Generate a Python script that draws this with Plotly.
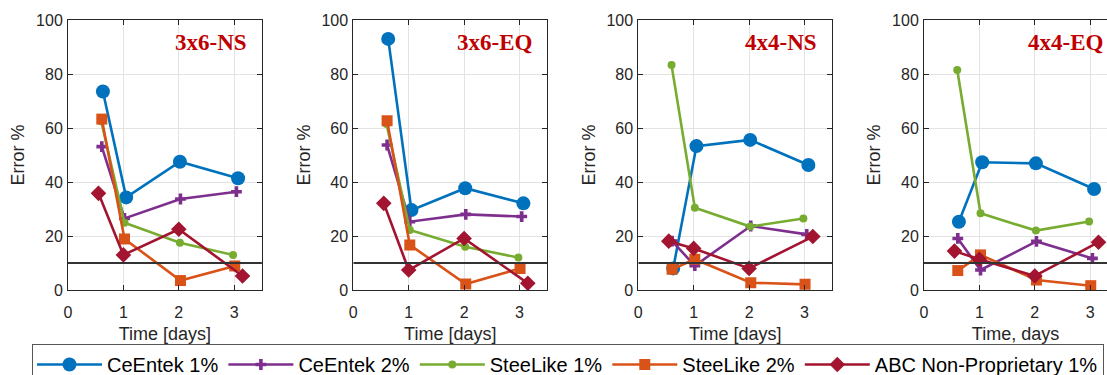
import plotly.graph_objects as go

panels = ["3x6-NS", "3x6-EQ", "4x4-NS", "4x4-EQ"]
x_titles = ["Time [days]", "Time [days]", "Time [days]", "Time, days"]
series = ["CeEntek 1%", "CeEntek 2%", "SteeLike 1%", "SteeLike 2%", "ABC Non-Proprietary 1%"]

# measurement times (days) for each series
x_ce1 = [0.63, 1.05, 2.02, 3.07]
x_ce2 = [0.61, 1.02, 2.03, 3.04]
x_sl1 = [0.60, 1.02, 2.02, 2.98]
x_sl2 = [0.61, 1.02, 2.03, 3.01]
x_abc = [0.55, 1.00, 2.00, 3.15]

# Error % per panel (3x6-NS, 3x6-EQ, 4x4-NS, 4x4-EQ)
ce1 = [[73.5, 34.3, 47.5, 41.4], [93.0, 29.6, 37.7, 32.1], [8.0, 53.3, 55.6, 46.3], [25.3, 47.3, 46.9, 37.4]]
ce2 = [[53.1, 26.5, 33.7, 36.4], [53.7, 25.3, 28.0, 27.2], [18.1, 9.0, 23.7, 20.6], [19.1, 7.4, 18.0, 11.7]]
sl1 = [[62.5, 24.9, 17.5, 13.0], [61.5, 22.2, 16.0, 12.0], [83.3, 30.5, 23.5, 26.5], [81.5, 28.4, 22.0, 25.4]]
sl2 = [[63.3, 18.9, 3.5, 8.9], [62.7, 16.7, 2.2, 8.0], [7.7, 11.4, 2.7, 2.1], [7.2, 13.0, 3.7, 1.6]]
abc = [[35.8, 13.0, 22.5, 5.2], [32.1, 7.4, 19.1, 2.5], [18.1, 15.4, 8.0, 19.8], [14.4, 11.4, 5.2, 17.7]]
threshold = 10

styles = [
    (x_ce1, ce1, "#0072BD", "circle", 14),
    (x_ce2, ce2, "#7E2F8E", "cross", 9),
    (x_sl1, sl1, "#77AC30", "circle", 8),
    (x_sl2, sl2, "#D95319", "square", 11),
    (x_abc, abc, "#A2142F", "diamond", 12),
]

W, H = 1107, 375
unit = 55.4
lefts = [68, 353.3, 638.3, 924]
y_dom = [(375 - 290) / 375, (375 - 20) / 375]

fig = go.Figure()
font_main = "Liberation Sans, Arial, sans-serif"
axis_col = "#262626"

for p in range(4):
    suf = "" if p == 0 else str(p + 1)
    xr = 3.5 if p < 3 else (W - lefts[p]) / unit
    x0 = lefts[p] / W
    x1 = min(1.0, (lefts[p] + 3.5 * unit) / W)
    for si, (xs, ys, col, sym, sz) in enumerate(styles):
        fig.add_trace(go.Scatter(
            x=xs, y=ys[p], mode="lines+markers", name=series[si],
            line=dict(color=col, width=2.6),
            marker=dict(symbol=sym, size=sz, color=col, line=dict(width=0)),
            showlegend=(p == 0), legendgroup=series[si],
            xaxis="x" + suf, yaxis="y" + suf,
        ))
    fig.add_shape(type="line", xref="x" + suf, yref="y" + suf,
                  x0=0, x1=xr, y0=threshold, y1=threshold,
                  line=dict(color="#333333", width=2))
    fig.add_annotation(text="<b>" + panels[p] + "</b>", xref="x" + suf, yref="y" + suf,
                       x=3.5 - 13 / unit, y=91.5, xanchor="right", yanchor="middle",
                       showarrow=False,
                       font=dict(family="Liberation Serif, Times New Roman, serif", size=23, color="#C00000"))
    common = dict(showline=True, linecolor=axis_col, linewidth=1, ticks="inside", ticklen=5,
                  tickcolor=axis_col, showgrid=True, gridcolor="#e3e3e3", gridwidth=1,
                  zeroline=False, automargin=False,
                  tickfont=dict(family=font_main, size=16, color=axis_col))
    fig.update_layout(**{
        "xaxis" + suf: dict(common, domain=[x0, x1], range=[0, xr], tickvals=[0, 1, 2, 3],
                            mirror="ticks", anchor="y" + suf, ticklabelstandoff=8,
                            title=dict(text=x_titles[p], font=dict(family=font_main, size=18, color=axis_col), standoff=7)),
        "yaxis" + suf: dict(common, domain=y_dom, range=[0, 100], tickvals=[0, 20, 40, 60, 80, 100],
                            mirror=("ticks" if p < 3 else False), anchor="x" + suf, ticklabelstandoff=1,
                            title=dict(text="Error %", font=dict(family=font_main, size=18, color=axis_col), standoff=6)),
    })

fig.update_layout(
    width=W, height=H, margin=dict(l=0, r=0, t=0, b=0, autoexpand=False),
    plot_bgcolor="white", paper_bgcolor="white",
    legend=dict(orientation="h", x=32 / W, y=(375 - 344) / 375, xanchor="left", yanchor="top",
                bordercolor="#555555", borderwidth=1, bgcolor="white",
                font=dict(family=font_main, size=20, color="#000000"),
                itemwidth=65, tracegroupgap=0),
)
fig.write_html("out.html", config={"displayModeBar": False},
               post_script="document.body.style.margin='0';")
